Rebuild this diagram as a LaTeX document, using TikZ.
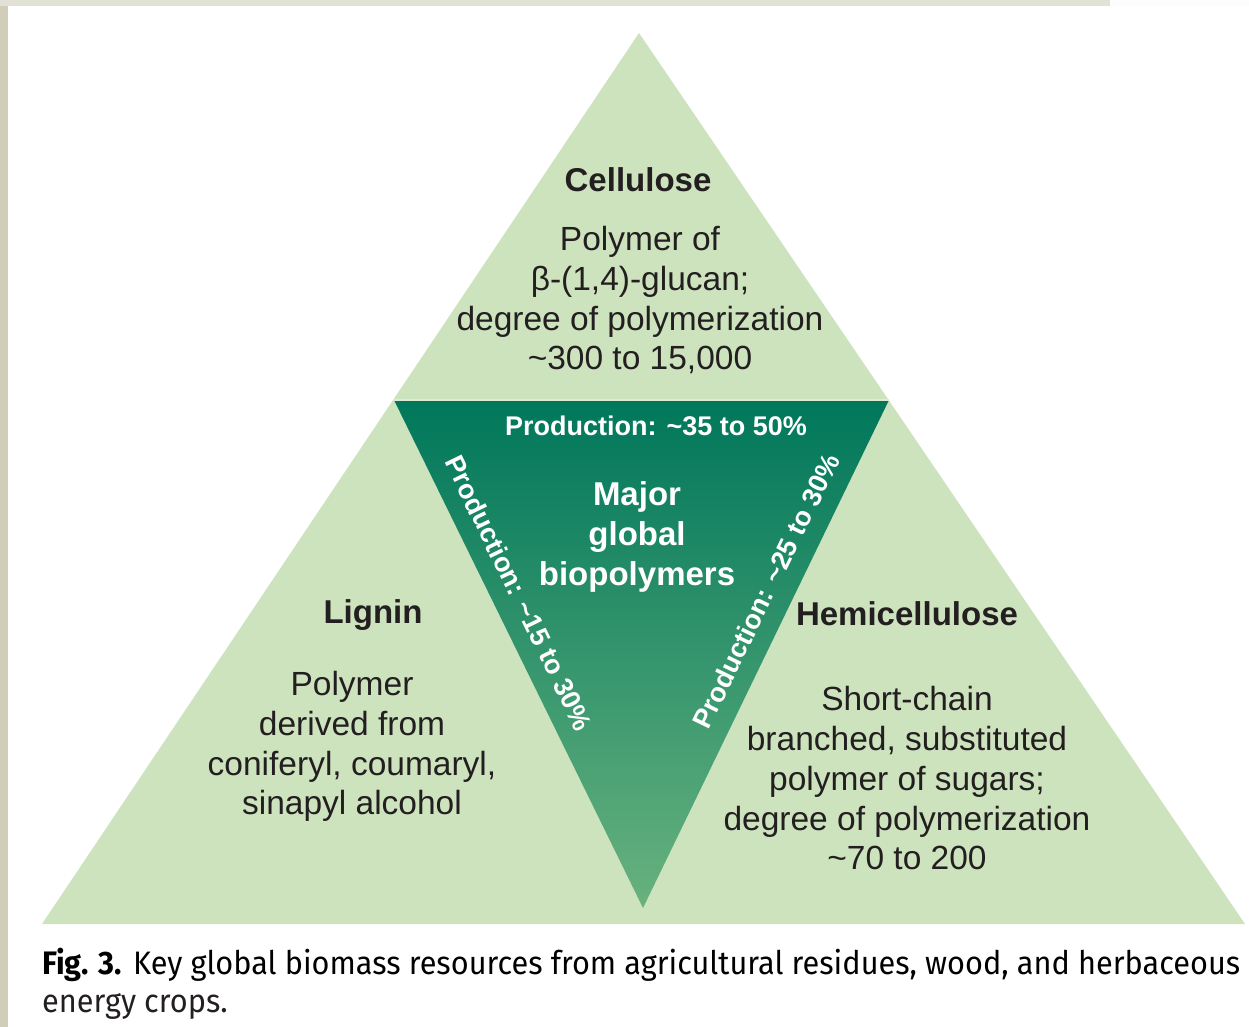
\documentclass[tikz,border=0pt]{standalone}
\usepackage{fontspec}
\usepackage{graphicx}
\setmainfont{Liberation Sans}
\newfontfamily\capfont{Fira Sans}
\definecolor{leaf}{RGB}{205,227,190}
\definecolor{tealtop}{RGB}{0,119,91}
\definecolor{tealmid}{RGB}{22,136,100}
\definecolor{tealbot}{RGB}{104,178,126}
\definecolor{ink}{RGB}{35,31,32}
\definecolor{stripleft}{RGB}{208,206,186}
\definecolor{striptop}{RGB}{226,225,214}
\newlength\capwd
\newsavebox\capboxA
\AtBeginDocument{%
  \sbox\capboxA{\capfont\fontsize{32.5}{38}\selectfont\textbf{Fig. 3.} Key global biomass resources from agricultural residues, wood, and herbaceous}%
  \setlength\capwd{\wd\capboxA}%
  \pgfmathsetmacro\capsx{1198pt/\capwd}%
  \xdef\capsx{\capsx}}
\begin{document}
\begin{tikzpicture}[x=1pt,y=-1pt,
  body/.style={text=ink,font=\fontsize{33.5}{40}\selectfont,inner sep=0pt,anchor=base},
  head/.style={text=ink,font=\fontsize{33}{40}\selectfont\bfseries,inner sep=0pt,anchor=base},
  prodlabel/.style={text=white,font=\fontsize{27}{32}\selectfont\bfseries,inner sep=0pt},
  majorlabel/.style={text=white,font=\fontsize{33}{40}\selectfont\bfseries,inner sep=0pt,anchor=base},
  caplabel/.style={text=ink,inner sep=0pt,anchor=base west}]
\useasboundingbox (0,0) rectangle (1249,1027);
% background panel
\fill[white] (0,0) rectangle (1249,1027);
\fill[stripleft] (0,0) rectangle (8,1027);
\fill[striptop] (0,0) rectangle (1110,6);
\fill[white!95!striptop] (1110,0) rectangle (1249,6);
% big triangle
\coordinate (apex) at (639,33);
\coordinate (bl) at (42,924);
\coordinate (br) at (1245,924);
\fill[leaf] (apex) -- (bl) -- (br) -- cycle;
% inner inverted triangle
\coordinate (itl) at (394,400);
\coordinate (itr) at (889,400);
\coordinate (ibot) at (643,908);
\shade[top color=tealtop, middle color=tealmid, bottom color=tealbot] (itl) -- (itr) -- (ibot) -- cycle;
\draw[line width=1.2pt, leaf!70!white] (itl) -- (itr);
% Cellulose
\node[head] (cel) at (638,192) {Cellulose};
\node[body] (cel1) at (640,250) {Polymer of};
\node[body] (cel2) at (640,290) {β-(1,4)-glucan;};
\node[body] (cel3) at (640,330) {degree of polymerization};
\node[body] (cel4) at (640,369) {\textasciitilde300 to 15,000};
% Lignin
\node[head] (lig) at (373,623) {Lignin};
\node[body] (lig1) at (352,695) {Polymer};
\node[body] (lig2) at (352,735) {derived from};
\node[body] (lig3) at (352,775) {coniferyl, coumaryl,};
\node[body] (lig4) at (352,814) {sinapyl alcohol};
% Hemicellulose
\node[head] (hem) at (907,625) {Hemicellulose};
\node[body] (hem1) at (907,710) {Short-chain};
\node[body] (hem2) at (907,750) {branched, substituted};
\node[body] (hem3) at (907,790) {polymer of sugars;};
\node[body] (hem4) at (907,830) {degree of polymerization};
\node[body] (hem5) at (907,869) {\textasciitilde70 to 200};
% inner labels
\node[prodlabel,anchor=base] (ptop) at (656,435) {Production: \textasciitilde35 to 50\%};
\node[majorlabel] (maj1) at (637,505) {Major};
\node[majorlabel] (maj2) at (637,545) {global};
\node[majorlabel] (maj3) at (637,585) {biopolymers};
\node[prodlabel,rotate=-64] (pleft) at (519,593) {Production: \textasciitilde15 to 30\%};
\node[prodlabel,rotate=64] (pright) at (766,591) {Production: \textasciitilde25 to 30\%};
% caption
\node[caplabel] (capA) at (42,974) {\scalebox{\capsx}[1]{\usebox\capboxA}};
\node[caplabel] (capB) at (42,1012) {\scalebox{\capsx}[1]{\capfont\fontsize{32.5}{38}\selectfont energy crops.}};
\end{tikzpicture}
\end{document}
